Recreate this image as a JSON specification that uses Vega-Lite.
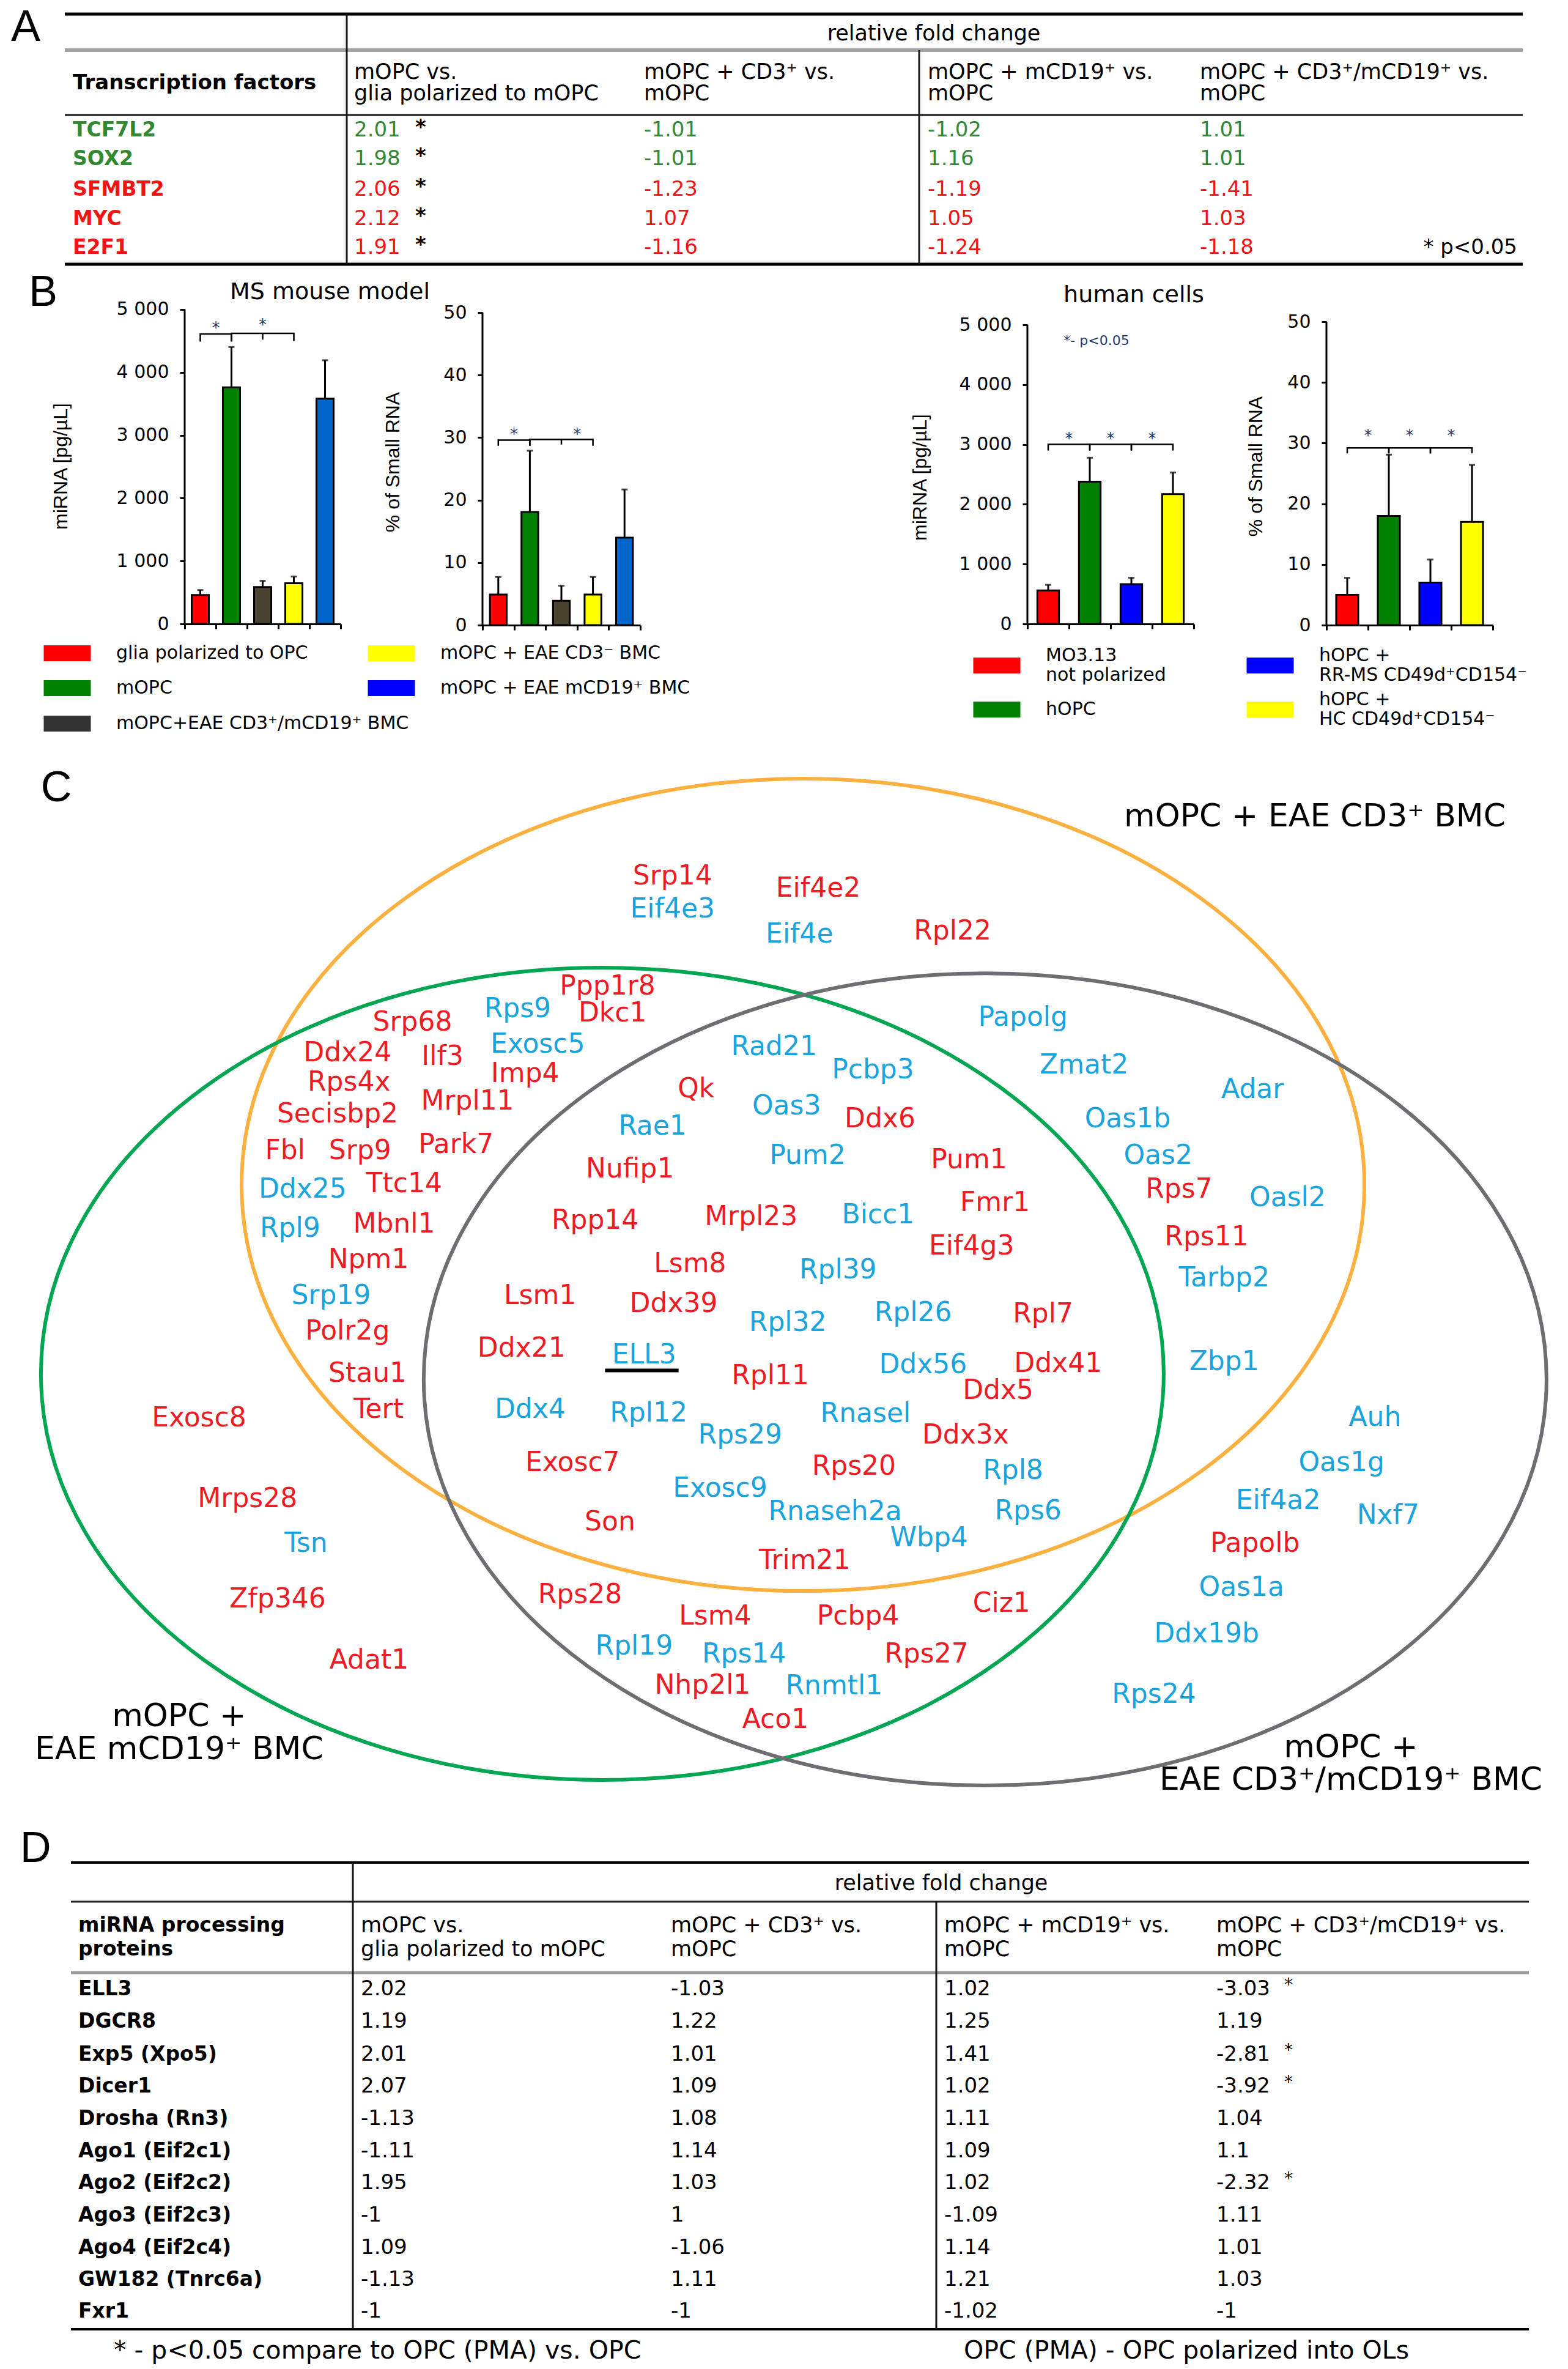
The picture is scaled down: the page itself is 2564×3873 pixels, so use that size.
{
"$schema": "https://vega.github.io/schema/vega-lite/v6.json",
"background": "white",
"padding": 0,
"spacing": 0,
"resolve": {"scale": {"color": "independent"}},
"config": {
  "view": {"stroke": null},
  "font": "DejaVu Sans",
  "text": {"font": "DejaVu Sans", "color": "black", "baseline": "middle", "align": "left"},
  "axis": {"grid": false, "domainColor": "black", "domainWidth": 3, "tickColor": "black", "tickWidth": 3, "tickSize": 8, "labelColor": "black", "labelFont": "DejaVu Sans", "labelFontSize": 30, "labelPadding": 18, "titleFont": "Liberation Sans", "titleFontSize": 32, "titleFontWeight": "normal", "titleColor": "black"}
},
"datasets": {
  "linesA": [
    {"k":"top","x1":-1,"x2":5,"y1":0,"y2":0},
    {"k":"gray","x1":-1,"x2":5,"y1":2,"y2":2},
    {"k":"mid","x1":-1,"x2":5,"y1":5,"y2":5},
    {"k":"top","x1":-1,"x2":5,"y1":11,"y2":11},
    {"k":"vert","x1":0.5,"x2":0.5,"y1":0,"y2":11},
    {"k":"vert","x1":2.5,"x2":2.5,"y1":2,"y2":11}
  ],
  "hdrA": [
    {"r":0.7,"c":-2,"t":"A","k":"L"},
    {"r":1,"c":2.5,"t":"relative fold change","k":"rfc"},
    {"r":3.5,"c":0,"t":"Transcription factors","k":"hb"},
    {"r":3,"c":1,"t":"mOPC vs.","k":"h"},
    {"r":4,"c":1,"t":"glia polarized to mOPC","k":"h"},
    {"r":3,"c":2,"t":"mOPC + CD3⁺ vs.","k":"h"},
    {"r":4,"c":2,"t":"mOPC","k":"h"},
    {"r":3,"c":3,"t":"mOPC + mCD19⁺ vs.","k":"h"},
    {"r":4,"c":3,"t":"mOPC","k":"h"},
    {"r":3,"c":4,"t":"mOPC + CD3⁺/mCD19⁺ vs.","k":"h"},
    {"r":4,"c":4,"t":"mOPC","k":"h"},
    {"r":10,"c":5,"t":"*  p<0.05","k":"p"}
  ],
  "tfA": [
    {"r":6,"gene":"TCF7L2","grp":"I","v1":2.01,"v2":-1.01,"v3":-1.02,"v4":1.01,"sig":"*"},
    {"r":7,"gene":"SOX2","grp":"I","v1":1.98,"v2":-1.01,"v3":1.16,"v4":1.01,"sig":"*"},
    {"r":8,"gene":"SFMBT2","grp":"II","v1":2.06,"v2":-1.23,"v3":-1.19,"v4":-1.41,"sig":"*"},
    {"r":9,"gene":"MYC","grp":"II","v1":2.12,"v2":1.07,"v3":1.05,"v4":1.03,"sig":"*"},
    {"r":10,"gene":"E2F1","grp":"II","v1":1.91,"v2":-1.16,"v3":-1.24,"v4":-1.18,"sig":"*"}
  ],
  "mouse": [
    {"cond":"glia","mirna":460,"mirna_hi":538,"pct":4.9,"pct_hi":7.7},
    {"cond":"mOPC","mirna":3762,"mirna_hi":4403,"pct":18.1,"pct_hi":27.9},
    {"cond":"CD3CD19","mirna":587,"mirna_hi":685,"pct":3.9,"pct_hi":6.3},
    {"cond":"CD3neg","mirna":646,"mirna_hi":753,"pct":4.9,"pct_hi":7.7},
    {"cond":"CD19","mirna":3581,"mirna_hi":4193,"pct":14.0,"pct_hi":21.7}
  ],
  "human": [
    {"cond":"MO313","mirna":561,"mirna_hi":653,"pct":5.0,"pct_hi":7.8},
    {"cond":"hOPC","mirna":2377,"mirna_hi":2778,"pct":18.0,"pct_hi":28.1},
    {"cond":"RRMS","mirna":664,"mirna_hi":772,"pct":7.0,"pct_hi":10.8},
    {"cond":"HC","mirna":2171,"mirna_hi":2531,"pct":17.0,"pct_hi":26.4}
  ],
  "brackets": [
    {"ch":"m1","br":"a","o":0,"cond":"glia","y":4490},
    {"ch":"m1","br":"a","o":1,"cond":"glia","y":4610},
    {"ch":"m1","br":"a","o":2,"cond":"mOPC","y":4610},
    {"ch":"m1","br":"a","o":3,"cond":"mOPC","y":4490},
    {"ch":"m1","br":"b","o":0,"cond":"mOPC","y":4500},
    {"ch":"m1","br":"b","o":1,"cond":"mOPC","y":4620},
    {"ch":"m1","br":"b","o":2,"cond":"CD3CD19","y":4620},
    {"ch":"m1","br":"b","o":3,"cond":"CD3CD19","y":4520},
    {"ch":"m1","br":"b","o":4,"cond":"CD3CD19","y":4620},
    {"ch":"m1","br":"b","o":5,"cond":"CD3neg","y":4620},
    {"ch":"m1","br":"b","o":6,"cond":"CD3neg","y":4500},
    {"ch":"m2","br":"a","o":0,"cond":"glia","y":28.7},
    {"ch":"m2","br":"a","o":1,"cond":"glia","y":29.6},
    {"ch":"m2","br":"a","o":2,"cond":"mOPC","y":29.6},
    {"ch":"m2","br":"a","o":3,"cond":"mOPC","y":28.7},
    {"ch":"m2","br":"b","o":0,"cond":"mOPC","y":28.7},
    {"ch":"m2","br":"b","o":1,"cond":"mOPC","y":29.7},
    {"ch":"m2","br":"b","o":2,"cond":"CD3CD19","y":29.7},
    {"ch":"m2","br":"b","o":3,"cond":"CD3CD19","y":28.9},
    {"ch":"m2","br":"b","o":4,"cond":"CD3CD19","y":29.7},
    {"ch":"m2","br":"b","o":5,"cond":"CD3neg","y":29.7},
    {"ch":"m2","br":"b","o":6,"cond":"CD3neg","y":28.7},
    {"ch":"h1","br":"a","o":0,"cond":"MO313","y":2900},
    {"ch":"h1","br":"a","o":1,"cond":"MO313","y":3000},
    {"ch":"h1","br":"a","o":2,"cond":"hOPC","y":3000},
    {"ch":"h1","br":"a","o":3,"cond":"hOPC","y":2900},
    {"ch":"h1","br":"b","o":0,"cond":"hOPC","y":2900},
    {"ch":"h1","br":"b","o":1,"cond":"hOPC","y":3000},
    {"ch":"h1","br":"b","o":2,"cond":"RRMS","y":3000},
    {"ch":"h1","br":"b","o":3,"cond":"RRMS","y":2900},
    {"ch":"h1","br":"c","o":0,"cond":"RRMS","y":2900},
    {"ch":"h1","br":"c","o":1,"cond":"RRMS","y":3000},
    {"ch":"h1","br":"c","o":2,"cond":"HC","y":3000},
    {"ch":"h1","br":"c","o":3,"cond":"HC","y":2900},
    {"ch":"h2","br":"a","o":0,"cond":"MO313","y":28.3},
    {"ch":"h2","br":"a","o":1,"cond":"MO313","y":29.2},
    {"ch":"h2","br":"a","o":2,"cond":"hOPC","y":29.2},
    {"ch":"h2","br":"a","o":3,"cond":"hOPC","y":28.3},
    {"ch":"h2","br":"b","o":0,"cond":"hOPC","y":28.3},
    {"ch":"h2","br":"b","o":1,"cond":"hOPC","y":29.2},
    {"ch":"h2","br":"b","o":2,"cond":"RRMS","y":29.2},
    {"ch":"h2","br":"b","o":3,"cond":"RRMS","y":28.3},
    {"ch":"h2","br":"c","o":0,"cond":"RRMS","y":28.3},
    {"ch":"h2","br":"c","o":1,"cond":"RRMS","y":29.2},
    {"ch":"h2","br":"c","o":2,"cond":"HC","y":29.2},
    {"ch":"h2","br":"c","o":3,"cond":"HC","y":28.3}
  ],
  "stars": [
    {"ch":"m1","cond":"glia","pos":"b","y":4760},
    {"ch":"m1","cond":"CD3CD19","pos":"c","y":4810},
    {"ch":"m2","cond":"glia","pos":"b","y":31.0},
    {"ch":"m2","cond":"CD3CD19","pos":"b","y":31.0},
    {"ch":"h1","cond":"MO313","pos":"b","y":3150},
    {"ch":"h1","cond":"hOPC","pos":"b","y":3150},
    {"ch":"h1","cond":"RRMS","pos":"b","y":3150},
    {"ch":"h2","cond":"MO313","pos":"b","y":31.8},
    {"ch":"h2","cond":"hOPC","pos":"b","y":31.8},
    {"ch":"h2","cond":"RRMS","pos":"b","y":31.8}
  ],
  "legend": [
    {"cond":"glia","lab":"glia polarized to OPC","slot":0,"lr":0},
    {"cond":"mOPC","lab":"mOPC","slot":0,"lr":1},
    {"cond":"CD3CD19","lab":"mOPC+EAE CD3⁺/mCD19⁺ BMC","slot":0,"lr":2},
    {"cond":"CD3neg","lab":"mOPC + EAE CD3⁻ BMC","slot":1,"lr":0},
    {"cond":"CD19","lab":"mOPC + EAE mCD19⁺ BMC","slot":1,"lr":1},
    {"cond":"MO313","lab":"MO3.13\nnot polarized","slot":2,"lr":3},
    {"cond":"hOPC","lab":"hOPC","slot":2,"lr":4},
    {"cond":"RRMS","lab":"hOPC +\nRR-MS CD49d⁺CD154⁻","slot":3,"lr":3},
    {"cond":"HC","lab":"hOPC +\nHC CD49d⁺CD154⁻","slot":3,"lr":4}
  ],
  "vennSets": [
    {"set":"mOPC + EAE CD3⁺ BMC","x":532.6,"y":785.7},
    {"set":"mOPC + EAE mCD19⁺ BMC","x":399.5,"y":911.0},
    {"set":"mOPC + EAE CD3⁺/mCD19⁺ BMC","x":653.4,"y":914.7}
  ],
  "vennLabels": [
    {"t":"mOPC +  EAE CD3⁺ BMC","x":872.1,"y":541.5},
    {"t":"mOPC +","x":118.8,"y":1138.2},
    {"t":"EAE mCD19⁺ BMC","x":118.8,"y":1160.1},
    {"t":"mOPC +","x":896.0,"y":1158.8},
    {"t":"EAE CD3⁺/mCD19⁺ BMC","x":896.0,"y":1180.3}
  ],
  "genes": [
    {"g":"Srp14","grp":"a","x":446.1,"y":581.4},
    {"g":"Eif4e3","grp":"b","x":446.1,"y":603.0},
    {"g":"Eif4e2","grp":"a","x":542.7,"y":589.4},
    {"g":"Eif4e","grp":"b","x":530.3,"y":619.7},
    {"g":"Rpl22","grp":"a","x":631.8,"y":617.9},
    {"g":"Ppp1r8","grp":"a","x":403.0,"y":654.3},
    {"g":"Rps9","grp":"b","x":343.3,"y":669.1},
    {"g":"Dkc1","grp":"a","x":406.3,"y":672.1},
    {"g":"Srp68","grp":"a","x":273.6,"y":678.3},
    {"g":"Ddx24","grp":"a","x":230.5,"y":698.3},
    {"g":"Ilf3","grp":"a","x":293.5,"y":701.0},
    {"g":"Exosc5","grp":"b","x":356.6,"y":692.6},
    {"g":"Imp4","grp":"a","x":348.3,"y":712.4},
    {"g":"Rps4x","grp":"a","x":231.5,"y":718.1},
    {"g":"Mrpl11","grp":"a","x":310.1,"y":730.7},
    {"g":"Secisbp2","grp":"a","x":223.9,"y":739.1},
    {"g":"Fbl","grp":"a","x":189.1,"y":763.3},
    {"g":"Srp9","grp":"a","x":238.8,"y":763.3},
    {"g":"Park7","grp":"a","x":302.5,"y":759.2},
    {"g":"Ddx25","grp":"b","x":200.7,"y":788.8},
    {"g":"Ttc14","grp":"a","x":268.0,"y":785.4},
    {"g":"Rpl9","grp":"b","x":192.4,"y":815.0},
    {"g":"Mbnl1","grp":"a","x":261.4,"y":812.0},
    {"g":"Npm1","grp":"a","x":244.4,"y":835.5},
    {"g":"Srp19","grp":"b","x":219.6,"y":859.6},
    {"g":"Polr2g","grp":"a","x":230.5,"y":883.0},
    {"g":"Stau1","grp":"a","x":243.8,"y":911.1},
    {"g":"Tert","grp":"a","x":251.1,"y":935.0},
    {"g":"Rad21","grp":"b","x":513.4,"y":694.2},
    {"g":"Pcbp3","grp":"b","x":579.0,"y":709.7},
    {"g":"Qk","grp":"a","x":461.7,"y":722.2},
    {"g":"Oas3","grp":"b","x":521.7,"y":733.6},
    {"g":"Ddx6","grp":"a","x":583.7,"y":742.1},
    {"g":"Rae1","grp":"b","x":432.8,"y":747.3},
    {"g":"Pum2","grp":"b","x":535.6,"y":766.4},
    {"g":"Pum1","grp":"a","x":642.7,"y":769.4},
    {"g":"Nufip1","grp":"a","x":417.9,"y":775.6},
    {"g":"Fmr1","grp":"a","x":660.0,"y":797.9},
    {"g":"Bicc1","grp":"b","x":582.4,"y":805.9},
    {"g":"Mrpl23","grp":"a","x":498.2,"y":807.0},
    {"g":"Rpp14","grp":"a","x":394.7,"y":809.7},
    {"g":"Eif4g3","grp":"a","x":644.4,"y":826.8},
    {"g":"Lsm8","grp":"a","x":457.7,"y":838.5},
    {"g":"Rpl39","grp":"b","x":555.8,"y":842.3},
    {"g":"Lsm1","grp":"a","x":358.2,"y":859.6},
    {"g":"Ddx39","grp":"a","x":446.8,"y":864.8},
    {"g":"Rpl26","grp":"b","x":605.6,"y":871.0},
    {"g":"Rpl7","grp":"a","x":691.8,"y":871.6},
    {"g":"Rpl32","grp":"b","x":522.5,"y":877.3},
    {"g":"Ddx21","grp":"a","x":345.9,"y":894.4},
    {"g":"ELL3","grp":"b","x":427.2,"y":899.0},
    {"g":"Ddx56","grp":"b","x":612.2,"y":905.4},
    {"g":"Ddx41","grp":"a","x":701.8,"y":904.7},
    {"g":"Rpl11","grp":"a","x":510.9,"y":912.6},
    {"g":"Ddx5","grp":"a","x":662.0,"y":922.4},
    {"g":"Ddx4","grp":"b","x":351.6,"y":935.0},
    {"g":"Rpl12","grp":"b","x":430.2,"y":937.3},
    {"g":"Rnasel","grp":"b","x":574.1,"y":937.7},
    {"g":"Rps29","grp":"b","x":490.9,"y":952.1},
    {"g":"Ddx3x","grp":"a","x":640.4,"y":952.1},
    {"g":"Exosc7","grp":"a","x":379.8,"y":970.1},
    {"g":"Rps20","grp":"a","x":566.4,"y":972.6},
    {"g":"Rpl8","grp":"b","x":671.9,"y":975.3},
    {"g":"Exosc9","grp":"b","x":477.6,"y":987.2},
    {"g":"Rnaseh2a","grp":"b","x":553.9,"y":1002.7},
    {"g":"Rps6","grp":"b","x":681.9,"y":1002.2},
    {"g":"Son","grp":"a","x":404.6,"y":1009.5},
    {"g":"Wbp4","grp":"b","x":616.2,"y":1020.2},
    {"g":"Trim21","grp":"a","x":533.7,"y":1035.0},
    {"g":"Rps28","grp":"a","x":384.7,"y":1057.8},
    {"g":"Lsm4","grp":"a","x":474.3,"y":1072.2},
    {"g":"Pcbp4","grp":"a","x":569.1,"y":1072.2},
    {"g":"Ciz1","grp":"a","x":664.3,"y":1063.7},
    {"g":"Rpl19","grp":"b","x":420.6,"y":1092.0},
    {"g":"Rps14","grp":"b","x":493.5,"y":1097.2},
    {"g":"Rps27","grp":"a","x":614.5,"y":1097.2},
    {"g":"Nhp2l1","grp":"a","x":466.0,"y":1117.8},
    {"g":"Rnmtl1","grp":"b","x":553.2,"y":1118.4},
    {"g":"Aco1","grp":"a","x":514.3,"y":1140.5},
    {"g":"Papolg","grp":"b","x":678.5,"y":674.8},
    {"g":"Zmat2","grp":"b","x":719.0,"y":706.7},
    {"g":"Adar","grp":"b","x":830.8,"y":722.7},
    {"g":"Oas1b","grp":"b","x":747.9,"y":742.1},
    {"g":"Oas2","grp":"b","x":768.1,"y":766.4},
    {"g":"Rps7","grp":"a","x":782.0,"y":788.8},
    {"g":"Oasl2","grp":"b","x":854.0,"y":794.5},
    {"g":"Rps11","grp":"a","x":800.3,"y":820.7},
    {"g":"Tarbp2","grp":"b","x":811.9,"y":847.6},
    {"g":"Zbp1","grp":"b","x":811.9,"y":903.1},
    {"g":"Auh","grp":"b","x":912.0,"y":940.0},
    {"g":"Oas1g","grp":"b","x":889.8,"y":970.1},
    {"g":"Eif4a2","grp":"b","x":847.7,"y":995.4},
    {"g":"Nxf7","grp":"b","x":920.7,"y":1005.0},
    {"g":"Papolb","grp":"a","x":832.4,"y":1023.6},
    {"g":"Oas1a","grp":"b","x":823.5,"y":1052.8},
    {"g":"Ddx19b","grp":"b","x":800.3,"y":1083.6},
    {"g":"Rps24","grp":"b","x":765.4,"y":1123.9},
    {"g":"Exosc8","grp":"a","x":132.0,"y":940.7},
    {"g":"Mrps28","grp":"a","x":164.2,"y":994.0},
    {"g":"Tsn","grp":"b","x":203.0,"y":1023.9},
    {"g":"Zfp346","grp":"a","x":184.1,"y":1060.8},
    {"g":"Adat1","grp":"a","x":244.8,"y":1101.1}
  ],
  "linesD": [
    {"k":"top","x1":-1,"x2":5,"y1":0,"y2":0},
    {"k":"mid","x1":-1,"x2":5,"y1":2,"y2":2},
    {"k":"gray","x1":-1,"x2":5,"y1":5,"y2":5},
    {"k":"top","x1":-1,"x2":5,"y1":17,"y2":17},
    {"k":"vert","x1":0.5,"x2":0.5,"y1":0,"y2":17},
    {"k":"vert","x1":2.5,"x2":2.5,"y1":2,"y2":17}
  ],
  "hdrD": [
    {"r":-0.85,"c":-2,"t":"D","k":"L"},
    {"r":1,"c":2.5,"t":"relative fold change","k":"rfc"},
    {"r":3,"c":0,"t":"miRNA processing","k":"hb"},
    {"r":4,"c":0,"t":"proteins","k":"hb"},
    {"r":3,"c":1,"t":"mOPC vs.","k":"h"},
    {"r":4,"c":1,"t":"glia polarized to mOPC","k":"h"},
    {"r":3,"c":2,"t":"mOPC + CD3⁺ vs.","k":"h"},
    {"r":4,"c":2,"t":"mOPC","k":"h"},
    {"r":3,"c":3,"t":"mOPC + mCD19⁺ vs.","k":"h"},
    {"r":4,"c":3,"t":"mOPC","k":"h"},
    {"r":3,"c":4,"t":"mOPC + CD3⁺/mCD19⁺ vs.","k":"h"},
    {"r":4,"c":4,"t":"mOPC","k":"h"},
    {"r":18,"c":0,"t":"* -  p<0.05 compare to OPC (PMA) vs. OPC","k":"f1"},
    {"r":18,"c":3,"t":"OPC (PMA) - OPC polarized into OLs","k":"f2"}
  ],
  "mirD": [
    {"r":6,"prot":"ELL3","v1":2.02,"v2":-1.03,"v3":1.02,"v4":-3.03,"sig":"*"},
    {"r":7,"prot":"DGCR8","v1":1.19,"v2":1.22,"v3":1.25,"v4":1.19,"sig":""},
    {"r":8,"prot":"Exp5 (Xpo5)","v1":2.01,"v2":1.01,"v3":1.41,"v4":-2.81,"sig":"*"},
    {"r":9,"prot":"Dicer1","v1":2.07,"v2":1.09,"v3":1.02,"v4":-3.92,"sig":"*"},
    {"r":10,"prot":"Drosha (Rn3)","v1":-1.13,"v2":1.08,"v3":1.11,"v4":1.04,"sig":""},
    {"r":11,"prot":"Ago1 (Eif2c1)","v1":-1.11,"v2":1.14,"v3":1.09,"v4":1.1,"sig":""},
    {"r":12,"prot":"Ago2 (Eif2c2)","v1":1.95,"v2":1.03,"v3":1.02,"v4":-2.32,"sig":"*"},
    {"r":13,"prot":"Ago3 (Eif2c3)","v1":-1,"v2":1,"v3":-1.09,"v4":1.11,"sig":""},
    {"r":14,"prot":"Ago4 (Eif2c4)","v1":1.09,"v2":-1.06,"v3":1.14,"v4":1.01,"sig":""},
    {"r":15,"prot":"GW182 (Tnrc6a)","v1":-1.13,"v2":1.11,"v3":1.21,"v4":1.03,"sig":""},
    {"r":16,"prot":"Fxr1","v1":-1,"v2":-1,"v3":-1.02,"v4":-1,"sig":""}
  ]
},
"vconcat": [
  {
    "width": 2564, "height": 440,
    "encoding": {"y": {"field": "r", "type": "quantitative", "scale": {"domain": [0,1,2,3,4,5,6,7,8,9,10,11], "range": [23,55,82,118,153,188,213,260,310,358,405,432], "zero": false, "nice": false}, "axis": null}},
    "layer": [
      {"data": {"name": "linesA"}, "transform": [{"filter": "datum.k === 'top'"}], "mark": {"type": "rule", "color": "black", "strokeWidth": 5},
       "encoding": {"x": {"field": "x1", "type": "quantitative", "scale": {"domain": [-2,-1,0,0.5,1,2,2.5,3,4,5], "range": [18,106,119,567,579,1053,1503,1517,1962,2490], "zero": false, "nice": false}, "axis": null}, "x2": {"field": "x2"}, "y": {"field": "y1", "type": "quantitative", "scale": {"domain": [0,1,2,3,4,5,6,7,8,9,10,11], "range": [23,55,82,118,153,188,213,260,310,358,405,432], "zero": false, "nice": false}, "axis": null}, "y2": {"field": "y2"}}},
      {"data": {"name": "linesA"}, "transform": [{"filter": "datum.k === 'gray'"}], "mark": {"type": "rule", "color": "#A3A3A3", "strokeWidth": 6},
       "encoding": {"x": {"field": "x1", "type": "quantitative"}, "x2": {"field": "x2"}, "y": {"field": "y1", "type": "quantitative"}, "y2": {"field": "y2"}}},
      {"data": {"name": "linesA"}, "transform": [{"filter": "datum.k === 'mid'"}], "mark": {"type": "rule", "color": "#2B2B2B", "strokeWidth": 3.5},
       "encoding": {"x": {"field": "x1", "type": "quantitative"}, "x2": {"field": "x2"}, "y": {"field": "y1", "type": "quantitative"}, "y2": {"field": "y2"}}},
      {"data": {"name": "linesA"}, "transform": [{"filter": "datum.k === 'vert'"}], "mark": {"type": "rule", "color": "#1A1A1A", "strokeWidth": 3},
       "encoding": {"x": {"field": "x1", "type": "quantitative"}, "x2": {"field": "x2"}, "y": {"field": "y1", "type": "quantitative"}, "y2": {"field": "y2"}}},
      {"data": {"name": "hdrA"}, "transform": [{"filter": "datum.k === 'h'"}], "mark": {"type": "text", "fontSize": 35},
       "encoding": {"x": {"field": "c", "type": "quantitative"}, "text": {"field": "t", "type": "nominal"}}},
      {"data": {"name": "hdrA"}, "transform": [{"filter": "datum.k === 'hb'"}], "mark": {"type": "text", "fontSize": 34, "fontWeight": "bold"},
       "encoding": {"x": {"field": "c", "type": "quantitative"}, "text": {"field": "t", "type": "nominal"}}},
      {"data": {"name": "hdrA"}, "transform": [{"filter": "datum.k === 'rfc'"}], "mark": {"type": "text", "fontSize": 35, "align": "center", "dx": 24},
       "encoding": {"x": {"field": "c", "type": "quantitative"}, "text": {"field": "t", "type": "nominal"}}},
      {"data": {"name": "hdrA"}, "transform": [{"filter": "datum.k === 'p'"}], "mark": {"type": "text", "fontSize": 34, "align": "right", "dx": -9},
       "encoding": {"x": {"field": "c", "type": "quantitative"}, "text": {"field": "t", "type": "nominal"}}},
      {"data": {"name": "hdrA"}, "transform": [{"filter": "datum.k === 'L'"}], "mark": {"type": "text", "fontSize": 72, "font": "Liberation Sans"},
       "encoding": {"x": {"field": "c", "type": "quantitative"}, "text": {"field": "t", "type": "nominal"}}},
      {"data": {"name": "tfA"}, "mark": {"type": "text", "fontSize": 33, "fontWeight": "bold"},
       "encoding": {"x": {"datum": 0, "type": "quantitative"}, "text": {"field": "gene", "type": "nominal"}, "color": {"field": "grp", "type": "nominal", "scale": {"domain": ["I","II"], "range": ["#338833","#F01414"]}, "legend": null}}},
      {"data": {"name": "tfA"}, "mark": {"type": "text", "fontSize": 34},
       "encoding": {"x": {"datum": 1, "type": "quantitative"}, "text": {"field": "v1", "type": "nominal"}, "color": {"field": "grp", "type": "nominal", "legend": null}}},
      {"data": {"name": "tfA"}, "mark": {"type": "text", "fontSize": 34},
       "encoding": {"x": {"datum": 2, "type": "quantitative"}, "text": {"field": "v2", "type": "nominal"}, "color": {"field": "grp", "type": "nominal", "legend": null}}},
      {"data": {"name": "tfA"}, "mark": {"type": "text", "fontSize": 34},
       "encoding": {"x": {"datum": 3, "type": "quantitative"}, "text": {"field": "v3", "type": "nominal"}, "color": {"field": "grp", "type": "nominal", "legend": null}}},
      {"data": {"name": "tfA"}, "mark": {"type": "text", "fontSize": 34},
       "encoding": {"x": {"datum": 4, "type": "quantitative"}, "text": {"field": "v4", "type": "nominal"}, "color": {"field": "grp", "type": "nominal", "legend": null}}},
      {"data": {"name": "tfA"}, "mark": {"type": "text", "fontSize": 34, "fontWeight": "bold", "dx": 100, "dy": -4, "color": "black"},
       "encoding": {"x": {"datum": 1, "type": "quantitative"}, "text": {"field": "sig", "type": "nominal"}}}
    ]
  },
  {
    "hconcat": [
      {"width": 302, "height": 607, "data": {"values": [{"a": 1}]}, "mark": {"type": "rule", "opacity": 0}, "encoding": {"y": {"value": 5}}},
      {
        "width": 255, "height": 580,
        "encoding": {"x": {"field": "cond", "type": "nominal", "scale": {"domain": ["glia","mOPC","CD3CD19","CD3neg","CD19"], "paddingInner": 0, "paddingOuter": 0}, "axis": {"title": null, "labels": false, "tickBand": "extent"}}},
        "layer": [
          {"data": {"name": "mouse"}, "mark": {"type": "bar", "width": {"band": 0.55}, "stroke": "black", "strokeWidth": 3},
           "encoding": {"y": {"field": "mirna", "type": "quantitative", "title": "miRNA [pg/µL]", "scale": {"domain": [0, 5642], "nice": false}, "axis": {"values": [0,1000,2000,3000,4000,5000], "labelExpr": "replace(format(datum.value, ','), ',', ' ')", "titlePadding": 74, "titleY": 322, "domain": false}},
             "color": {"field": "cond", "type": "nominal", "scale": {"domain": ["glia","mOPC","CD3CD19","CD3neg","CD19"], "range": ["#FF0000","#008000","#4A4330","#FFFF00","#0066CC"]}, "legend": null}}},
          {"data": {"values": [{"a": 1}]}, "mark": {"type": "rule", "color": "black", "strokeWidth": 3},
           "encoding": {"x": {"value": 0}, "y": {"datum": 0, "type": "quantitative"}, "y2": {"datum": 5000}}},
          {"data": {"name": "mouse"}, "mark": {"type": "rule", "color": "black", "strokeWidth": 3},
           "encoding": {"y": {"field": "mirna_hi", "type": "quantitative", "title": "miRNA [pg/µL]"}, "y2": {"field": "mirna"}}},
          {"data": {"name": "mouse"}, "mark": {"type": "tick", "orient": "horizontal", "color": "black", "thickness": 3, "size": 10},
           "encoding": {"y": {"field": "mirna_hi", "type": "quantitative", "title": "miRNA [pg/µL]"}}},
          {"data": {"name": "brackets"}, "transform": [{"filter": "datum.ch === 'm1'"}], "mark": {"type": "line", "color": "black", "strokeWidth": 2.5},
           "encoding": {"y": {"field": "y", "type": "quantitative", "title": "miRNA [pg/µL]"}, "detail": {"field": "br", "type": "nominal"}, "order": {"field": "o", "type": "quantitative"}}},
          {"data": {"name": "stars"}, "transform": [{"filter": "datum.ch === 'm1' && datum.pos === 'b'"}], "mark": {"type": "text", "text": "*", "align": "center", "dx": 25.5, "dy": 6, "fontSize": 26, "color": "#1F3A6B"},
           "encoding": {"y": {"field": "y", "type": "quantitative", "title": "miRNA [pg/µL]"}}},
          {"data": {"name": "stars"}, "transform": [{"filter": "datum.ch === 'm1' && datum.pos === 'c'"}], "mark": {"type": "text", "text": "*", "align": "center", "dy": 6, "fontSize": 26, "color": "#1F3A6B"},
           "encoding": {"y": {"field": "y", "type": "quantitative", "title": "miRNA [pg/µL]"}}},
          {"data": {"values": [{"cond": "CD19", "v": 5272, "t": "MS mouse model"}]}, "mark": {"type": "text", "align": "center", "dx": 8, "fontSize": 38},
           "encoding": {"y": {"field": "v", "type": "quantitative", "title": "miRNA [pg/µL]"}, "text": {"field": "t", "type": "nominal"}}},
          {"data": {"values": [{"cond": "glia", "v": 5263, "t": "B"}]}, "mark": {"type": "text", "align": "center", "dx": -257, "fontSize": 70, "font": "Liberation Sans"},
           "encoding": {"y": {"field": "v", "type": "quantitative", "title": "miRNA [pg/µL]"}, "text": {"field": "t", "type": "nominal"}}}
        ]
      },
      {"width": 232, "height": 607, "data": {"values": [{"a": 1}]}, "mark": {"type": "rule", "opacity": 0}, "encoding": {"y": {"value": 5}}},
      {
        "width": 258, "height": 582,
        "encoding": {"x": {"field": "cond", "type": "nominal", "scale": {"domain": ["glia","mOPC","CD3CD19","CD3neg","CD19"], "paddingInner": 0, "paddingOuter": 0}, "axis": {"title": null, "labels": false, "tickBand": "extent"}}},
        "layer": [
          {"data": {"name": "mouse"}, "mark": {"type": "bar", "width": {"band": 0.53}, "stroke": "black", "strokeWidth": 3},
           "encoding": {"y": {"field": "pct", "type": "quantitative", "title": "% of Small RNA", "scale": {"domain": [0, 56.95], "nice": false}, "axis": {"values": [0,10,20,30,40,50], "titlePadding": 65, "titleY": 315, "domain": false}},
             "color": {"field": "cond", "type": "nominal", "scale": {"domain": ["glia","mOPC","CD3CD19","CD3neg","CD19"], "range": ["#FF0000","#008000","#4A4330","#FFFF00","#0066CC"]}, "legend": null}}},
          {"data": {"values": [{"a": 1}]}, "mark": {"type": "rule", "color": "black", "strokeWidth": 3},
           "encoding": {"x": {"value": 0}, "y": {"datum": 0, "type": "quantitative"}, "y2": {"datum": 50}}},
          {"data": {"name": "mouse"}, "mark": {"type": "rule", "color": "black", "strokeWidth": 3},
           "encoding": {"y": {"field": "pct_hi", "type": "quantitative", "title": "% of Small RNA"}, "y2": {"field": "pct"}}},
          {"data": {"name": "mouse"}, "mark": {"type": "tick", "orient": "horizontal", "color": "black", "thickness": 3, "size": 10},
           "encoding": {"y": {"field": "pct_hi", "type": "quantitative", "title": "% of Small RNA"}}},
          {"data": {"name": "brackets"}, "transform": [{"filter": "datum.ch === 'm2'"}], "mark": {"type": "line", "color": "black", "strokeWidth": 2.5},
           "encoding": {"y": {"field": "y", "type": "quantitative", "title": "% of Small RNA"}, "detail": {"field": "br", "type": "nominal"}, "order": {"field": "o", "type": "quantitative"}}},
          {"data": {"name": "stars"}, "transform": [{"filter": "datum.ch === 'm2' && datum.pos === 'b'"}], "mark": {"type": "text", "text": "*", "align": "center", "dx": 25.8, "dy": 6, "fontSize": 26, "color": "#1F3A6B"},
           "encoding": {"y": {"field": "y", "type": "quantitative", "title": "% of Small RNA"}}}
        ]
      },
      {"width": 633, "height": 607, "data": {"values": [{"a": 1}]}, "mark": {"type": "rule", "opacity": 0}, "encoding": {"y": {"value": 5}}},
      {
        "width": 272, "height": 580,
        "encoding": {"x": {"field": "cond", "type": "nominal", "scale": {"domain": ["MO313","hOPC","RRMS","HC"], "paddingInner": 0, "paddingOuter": 0}, "axis": {"title": null, "labels": false, "tickBand": "extent"}}},
        "layer": [
          {"data": {"name": "human"}, "mark": {"type": "bar", "width": {"band": 0.52}, "stroke": "black", "strokeWidth": 3},
           "encoding": {"y": {"field": "mirna", "type": "quantitative", "title": "miRNA [pg/µL]", "scale": {"domain": [0, 5930.5], "nice": false}, "axis": {"values": [0,1000,2000,3000,4000,5000], "labelExpr": "replace(format(datum.value, ','), ',', ' ')", "titlePadding": 47, "titleY": 340, "domain": false}},
             "color": {"field": "cond", "type": "nominal", "scale": {"domain": ["MO313","hOPC","RRMS","HC"], "range": ["#FF0000","#008000","#0000FF","#FFFF00"]}, "legend": null}}},
          {"data": {"values": [{"a": 1}]}, "mark": {"type": "rule", "color": "black", "strokeWidth": 3},
           "encoding": {"x": {"value": 0}, "y": {"datum": 0, "type": "quantitative"}, "y2": {"datum": 5000}}},
          {"data": {"name": "human"}, "mark": {"type": "rule", "color": "black", "strokeWidth": 3},
           "encoding": {"y": {"field": "mirna_hi", "type": "quantitative", "title": "miRNA [pg/µL]"}, "y2": {"field": "mirna"}}},
          {"data": {"name": "human"}, "mark": {"type": "tick", "orient": "horizontal", "color": "black", "thickness": 3, "size": 10},
           "encoding": {"y": {"field": "mirna_hi", "type": "quantitative", "title": "miRNA [pg/µL]"}}},
          {"data": {"name": "brackets"}, "transform": [{"filter": "datum.ch === 'h1'"}], "mark": {"type": "line", "color": "black", "strokeWidth": 2.5},
           "encoding": {"y": {"field": "y", "type": "quantitative", "title": "miRNA [pg/µL]"}, "detail": {"field": "br", "type": "nominal"}, "order": {"field": "o", "type": "quantitative"}}},
          {"data": {"name": "stars"}, "transform": [{"filter": "datum.ch === 'h1' && datum.pos === 'b'"}], "mark": {"type": "text", "text": "*", "align": "center", "dx": 34, "dy": 6, "fontSize": 26, "color": "#1F3A6B"},
           "encoding": {"y": {"field": "y", "type": "quantitative", "title": "miRNA [pg/µL]"}}},
          {"data": {"values": [{"cond": "hOPC", "y": 4734}]}, "mark": {"type": "text", "text": "*- p<0.05", "align": "center", "dx": 11, "fontSize": 22, "color": "#1F3A6B"},
           "encoding": {"y": {"field": "y", "type": "quantitative", "title": "miRNA [pg/µL]"}}},
          {"data": {"values": [{"cond": "RRMS", "v": 5490, "t": "human cells"}]}, "mark": {"type": "text", "align": "center", "dx": 4, "fontSize": 38},
           "encoding": {"y": {"field": "v", "type": "quantitative", "title": "miRNA [pg/µL]"}, "text": {"field": "t", "type": "nominal"}}}
        ]
      },
      {"width": 217, "height": 607, "data": {"values": [{"a": 1}]}, "mark": {"type": "rule", "opacity": 0}, "encoding": {"y": {"value": 5}}},
      {
        "width": 272, "height": 582,
        "encoding": {"x": {"field": "cond", "type": "nominal", "scale": {"domain": ["MO313","hOPC","RRMS","HC"], "paddingInner": 0, "paddingOuter": 0}, "axis": {"title": null, "labels": false, "tickBand": "extent"}}},
        "layer": [
          {"data": {"name": "human"}, "mark": {"type": "bar", "width": {"band": 0.53}, "stroke": "black", "strokeWidth": 3},
           "encoding": {"y": {"field": "pct", "type": "quantitative", "title": "% of Small RNA", "scale": {"domain": [0, 58.67], "nice": false}, "axis": {"values": [0,10,20,30,40,50], "titlePadding": 34, "titleY": 322, "domain": false}},
             "color": {"field": "cond", "type": "nominal", "scale": {"domain": ["MO313","hOPC","RRMS","HC"], "range": ["#FF0000","#008000","#0000FF","#FFFF00"]}, "legend": null}}},
          {"data": {"values": [{"a": 1}]}, "mark": {"type": "rule", "color": "black", "strokeWidth": 3},
           "encoding": {"x": {"value": 0}, "y": {"datum": 0, "type": "quantitative"}, "y2": {"datum": 50}}},
          {"data": {"name": "human"}, "mark": {"type": "rule", "color": "black", "strokeWidth": 3},
           "encoding": {"y": {"field": "pct_hi", "type": "quantitative", "title": "% of Small RNA"}, "y2": {"field": "pct"}}},
          {"data": {"name": "human"}, "mark": {"type": "tick", "orient": "horizontal", "color": "black", "thickness": 3, "size": 10},
           "encoding": {"y": {"field": "pct_hi", "type": "quantitative", "title": "% of Small RNA"}}},
          {"data": {"name": "brackets"}, "transform": [{"filter": "datum.ch === 'h2'"}], "mark": {"type": "line", "color": "black", "strokeWidth": 2.5},
           "encoding": {"y": {"field": "y", "type": "quantitative", "title": "% of Small RNA"}, "detail": {"field": "br", "type": "nominal"}, "order": {"field": "o", "type": "quantitative"}}},
          {"data": {"name": "stars"}, "transform": [{"filter": "datum.ch === 'h2' && datum.pos === 'b'"}], "mark": {"type": "text", "text": "*", "align": "center", "dx": 34, "dy": 6, "fontSize": 26, "color": "#1F3A6B"},
           "encoding": {"y": {"field": "y", "type": "quantitative", "title": "% of Small RNA"}}}
        ]
      }
    ],
    "spacing": 0,
    "bounds": "flush",
    "resolve": {"scale": {"color": "independent"}}
  },
  {
    "width": 2564, "height": 183,
    "data": {"name": "legend"},
    "encoding": {
      "x": {"field": "slot", "type": "quantitative", "scale": {"domain": [0,1,2,3], "range": [110,640,1630,2077], "zero": false, "nice": false}, "axis": null},
      "y": {"field": "lr", "type": "quantitative", "scale": {"domain": [0,1,2,3,4], "range": [21,78,136,41,113], "zero": false, "nice": false}, "axis": null}
    },
    "layer": [
      {"mark": {"type": "point", "shape": "M-1,-0.34L1,-0.34L1,0.34L-1,0.34Z", "filled": true, "size": 5929, "opacity": 1, "strokeWidth": 0},
       "encoding": {"color": {"field": "cond", "type": "nominal", "scale": {"domain": ["glia","mOPC","CD3CD19","CD3neg","CD19","MO313","hOPC","RRMS","HC"], "range": ["#FF0000","#008000","#333333","#FFFF00","#0000FF","#FF0000","#008000","#0000FF","#FFFF00"]}, "legend": null}}},
      {"transform": [{"filter": "indexof(datum.lab, '\\n') < 0"}], "mark": {"type": "text", "align": "left", "dx": 80, "fontSize": 30},
       "encoding": {"text": {"field": "lab", "type": "nominal"}}},
      {"transform": [{"filter": "indexof(datum.lab, '\\n') >= 0"}], "mark": {"type": "text", "align": "left", "dx": 80, "dy": -16, "fontSize": 30, "lineBreak": "\n", "lineHeight": 32},
       "encoding": {"text": {"field": "lab", "type": "nominal"}}}
    ]
  },
  {
    "width": 2564, "height": 1730,
    "resolve": {"scale": {"color": "independent"}},
    "encoding": {
      "x": {"field": "x", "type": "quantitative", "scale": {"domain": [0, 1040], "zero": false, "nice": false}, "axis": null},
      "y": {"field": "y", "type": "quantitative", "scale": {"domain": [498.9, 1200.6], "reverse": true, "zero": false, "nice": false}, "axis": null}
    },
    "layer": [
      {"data": {"name": "vennSets"}, "mark": {"type": "point", "shape": "M-1,0C-1,-0.3995,-0.5523,-0.7233,0,-0.7233C0.5523,-0.7233,1,-0.3995,1,0C1,0.3995,0.5523,0.7233,0,0.7233C-0.5523,0.7233,-1,0.3995,-1,0Z", "filled": false, "size": 3370896, "strokeWidth": 6, "opacity": 1},
       "encoding": {"color": {"field": "set", "type": "nominal", "scale": {"domain": ["mOPC + EAE CD3⁺ BMC","mOPC + EAE mCD19⁺ BMC","mOPC + EAE CD3⁺/mCD19⁺ BMC"], "range": ["#FBB040","#00A651","#6D6E71"]}, "legend": null}}},
      {"data": {"name": "genes"}, "mark": {"type": "text", "align": "center", "fontSize": 44},
       "encoding": {"text": {"field": "g", "type": "nominal"}, "color": {"field": "grp", "type": "nominal", "scale": {"domain": ["a","b"], "range": ["#ED1C24","#19A4DD"]}, "legend": null}}},
      {"data": {"name": "vennLabels"}, "mark": {"type": "text", "align": "center", "fontSize": 52, "color": "black"},
       "encoding": {"text": {"field": "t", "type": "nominal"}}},
      {"data": {"values": [{"x1": 401.3, "x2": 450.1, "y": 908.8}]}, "mark": {"type": "rule", "color": "black", "strokeWidth": 6},
       "encoding": {"x": {"field": "x1", "type": "quantitative"}, "x2": {"field": "x2"}}},
      {"data": {"values": [{"t": "C", "x": 37.3, "y": 522.8}]}, "mark": {"type": "text", "align": "center", "font": "Liberation Sans", "fontSize": 70, "color": "black"},
       "encoding": {"text": {"field": "t", "type": "nominal"}}}
    ]
  },
  {
    "width": 2564, "height": 913,
    "encoding": {"y": {"field": "r", "type": "quantitative", "scale": {"domain": [-1,0,1,2,3,4,5,6,7,8,9,10,11,12,13,14,15,16,17,18], "range": [59,85,119,149,188,227,265,292,345,399,451,504,557,609,662,715,767,819,848,884], "zero": false, "nice": false}, "axis": null}},
    "layer": [
      {"data": {"name": "linesD"}, "transform": [{"filter": "datum.k === 'top'"}], "mark": {"type": "rule", "color": "black", "strokeWidth": 4},
       "encoding": {"x": {"field": "x1", "type": "quantitative", "scale": {"domain": [-2,-1,0,0.5,1,2,2.5,3,4,5], "range": [33,116,128,577,590,1097,1531,1544,1989,2500], "zero": false, "nice": false}, "axis": null}, "x2": {"field": "x2"}, "y": {"field": "y1", "type": "quantitative", "scale": {"domain": [-1,0,1,2,3,4,5,6,7,8,9,10,11,12,13,14,15,16,17,18], "range": [59,85,119,149,188,227,265,292,345,399,451,504,557,609,662,715,767,819,848,884], "zero": false, "nice": false}, "axis": null}, "y2": {"field": "y2"}}},
      {"data": {"name": "linesD"}, "transform": [{"filter": "datum.k === 'mid'"}], "mark": {"type": "rule", "color": "#222222", "strokeWidth": 3},
       "encoding": {"x": {"field": "x1", "type": "quantitative"}, "x2": {"field": "x2"}, "y": {"field": "y1", "type": "quantitative"}, "y2": {"field": "y2"}}},
      {"data": {"name": "linesD"}, "transform": [{"filter": "datum.k === 'gray'"}], "mark": {"type": "rule", "color": "#9C9C9C", "strokeWidth": 5},
       "encoding": {"x": {"field": "x1", "type": "quantitative"}, "x2": {"field": "x2"}, "y": {"field": "y1", "type": "quantitative"}, "y2": {"field": "y2"}}},
      {"data": {"name": "linesD"}, "transform": [{"filter": "datum.k === 'vert'"}], "mark": {"type": "rule", "color": "#111111", "strokeWidth": 3},
       "encoding": {"x": {"field": "x1", "type": "quantitative"}, "x2": {"field": "x2"}, "y": {"field": "y1", "type": "quantitative"}, "y2": {"field": "y2"}}},
      {"data": {"name": "hdrD"}, "transform": [{"filter": "datum.k === 'h'"}], "mark": {"type": "text", "fontSize": 35},
       "encoding": {"x": {"field": "c", "type": "quantitative"}, "text": {"field": "t", "type": "nominal"}}},
      {"data": {"name": "hdrD"}, "transform": [{"filter": "datum.k === 'hb'"}], "mark": {"type": "text", "fontSize": 33, "fontWeight": "bold"},
       "encoding": {"x": {"field": "c", "type": "quantitative"}, "text": {"field": "t", "type": "nominal"}}},
      {"data": {"name": "hdrD"}, "transform": [{"filter": "datum.k === 'rfc'"}], "mark": {"type": "text", "fontSize": 35, "align": "center", "dx": 8},
       "encoding": {"x": {"field": "c", "type": "quantitative"}, "text": {"field": "t", "type": "nominal"}}},
      {"data": {"name": "hdrD"}, "transform": [{"filter": "datum.k === 'f1'"}], "mark": {"type": "text", "fontSize": 41, "dx": 58},
       "encoding": {"x": {"field": "c", "type": "quantitative"}, "text": {"field": "t", "type": "nominal"}}},
      {"data": {"name": "hdrD"}, "transform": [{"filter": "datum.k === 'f2'"}], "mark": {"type": "text", "fontSize": 41, "dx": 32},
       "encoding": {"x": {"field": "c", "type": "quantitative"}, "text": {"field": "t", "type": "nominal"}}},
      {"data": {"name": "hdrD"}, "transform": [{"filter": "datum.k === 'L'"}], "mark": {"type": "text", "fontSize": 70, "font": "Liberation Sans"},
       "encoding": {"x": {"field": "c", "type": "quantitative"}, "text": {"field": "t", "type": "nominal"}}},
      {"data": {"name": "mirD"}, "mark": {"type": "text", "fontSize": 33, "fontWeight": "bold"},
       "encoding": {"x": {"datum": 0, "type": "quantitative"}, "text": {"field": "prot", "type": "nominal"}}},
      {"data": {"name": "mirD"}, "mark": {"type": "text", "fontSize": 34},
       "encoding": {"x": {"datum": 1, "type": "quantitative"}, "text": {"field": "v1", "type": "nominal"}}},
      {"data": {"name": "mirD"}, "mark": {"type": "text", "fontSize": 34},
       "encoding": {"x": {"datum": 2, "type": "quantitative"}, "text": {"field": "v2", "type": "nominal"}}},
      {"data": {"name": "mirD"}, "mark": {"type": "text", "fontSize": 34},
       "encoding": {"x": {"datum": 3, "type": "quantitative"}, "text": {"field": "v3", "type": "nominal"}}},
      {"data": {"name": "mirD"}, "mark": {"type": "text", "fontSize": 34},
       "encoding": {"x": {"datum": 4, "type": "quantitative"}, "text": {"field": "v4", "type": "nominal"}}},
      {"data": {"name": "mirD"}, "mark": {"type": "text", "fontSize": 28, "dx": 111, "dy": -6},
       "encoding": {"x": {"datum": 4, "type": "quantitative"}, "text": {"field": "sig", "type": "nominal"}}}
    ]
  }
]
}
